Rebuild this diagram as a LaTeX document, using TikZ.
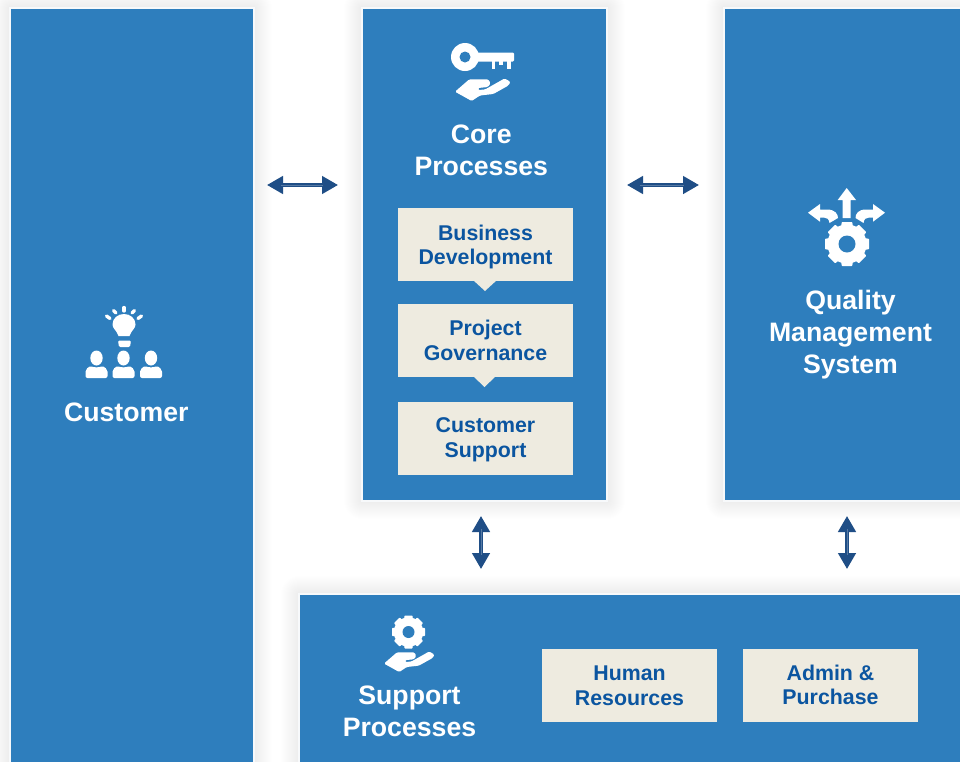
\documentclass[tikz,border=0pt]{standalone}
\usepackage{fontspec}
\setmainfont{Liberation Sans}
\usetikzlibrary{arrows.meta,calc}
\definecolor{boxblue}{HTML}{2E7EBD}
\definecolor{cream}{HTML}{EEEBE0}
\definecolor{inktext}{HTML}{0B55A0}
\definecolor{arrowblue}{HTML}{1F4E86}
\definecolor{edgeline}{HTML}{F7F9FB}
\tikzset{
  bigbox/.style={rectangle,draw=edgeline,line width=1.2pt,fill=boxblue,inner sep=0pt,outer sep=0pt},
  subbox/.style={rectangle,fill=cream,minimum width=131.25pt,minimum height=54.75pt,inner sep=0pt,outer sep=0pt},
  subtext/.style={text=inktext,font=\fontsize{16}{18.4}\selectfont\bfseries,align=center,inner sep=0pt},
  heading/.style={text=white,font=\fontsize{20}{24}\selectfont\bfseries,align=center,inner sep=0pt},
  biarrow/.style={draw=arrowblue,line width=2.6pt,{Triangle[length=12pt,width=13pt]}-{Triangle[length=12pt,width=13pt]}},
  midline/.style={draw=arrowblue!75!white,line width=.7pt},
  icon/.style={fill=white,draw=none},
  ray/.style={draw=white,line width=2.5pt,line cap=round}
}
\newcommand{\softshadow}[4]{%
  \foreach \i in {1,...,18}{
    \fill[black,opacity=.005,rounded corners=\i*0.75pt] (#1-\i,#2-\i) rectangle (#3+\i,#4+\i);
  }}
\newcommand{\gearicon}[4]{% cx cy R r
  \begin{scope}[shift={(#1,#2)}]
    \fill[icon] (0,0) circle[radius=#3*0.89];
    \foreach \a in {0,45,...,315}{
      \fill[icon,rotate=\a,rounded corners=.5pt] (-#3*.36,0) -- (-#3*.24,#3) -- (#3*.24,#3) -- (#3*.36,0) -- cycle;
    }
    \fill[boxblue] (0,0) circle[radius=#4];
  \end{scope}}
\newcommand{\handicon}[3]{% x y scale
  \begin{scope}[shift={(#1,#2)},scale=#3]
    \fill[icon,rounded corners=1pt] (0,12.7) -- (14.3,.3) -- (33.3,.3) -- (35.5,4.3) -- (33,8) -- (23,9) -- (23,11) -- (30,10.5) -- (49.5,-.5) -- (55.5,2.7) -- (53.5,6.5) -- (38.3,15) -- (25,16.5) -- (16.7,22) -- cycle;
  \end{scope}}
\newcommand{\personicon}[1]{%
  \begin{scope}[shift={(#1,0)}]
    \fill[icon] (0,358) ellipse[x radius=6.2,y radius=7.5];
    \fill[icon,rounded corners=1.5pt] (-11,378) -- (-11,369.5) -- (-5.5,365.5) .. controls (-3,367.5) and (3,367.5) .. (5.5,365.5) -- (11,369.5) -- (11,378) -- cycle;
  \end{scope}}
\begin{document}
\begin{tikzpicture}[x=0.75pt,y=-0.75pt]
\useasboundingbox (0,0) rectangle (960,761);
\clip (0,0) rectangle (960,761);
\fill[white] (0,0) rectangle (960,761);

\softshadow{10}{8}{254}{900}
\softshadow{362}{8}{607}{501}
\softshadow{724}{8}{1100}{501}
\softshadow{299}{594}{1100}{900}

\node[bigbox,minimum width=183pt,minimum height=669pt] (customer) at (132,454) {};
\node[bigbox,minimum width=183.75pt,minimum height=369.75pt] (core) at (484.5,254.5) {};
\node[bigbox,minimum width=282pt,minimum height=369.75pt] (quality) at (912,254.5) {};
\node[bigbox,minimum width=600.75pt,minimum height=229.5pt] (support) at (699.5,747) {};

\node[heading] (customerlabel) at (126.3,412) {Customer};
\node[heading] (corelabel) at (481.3,150) {Core\\Processes};
\node[heading] (qualitylabel) at (850.5,335) {Quality\\Management\\System};
\node[heading] (supportlabel) at (409.5,711) {Support\\Processes};

\fill[cream] (473,280) -- (497,280) -- (485,291) -- cycle;
\fill[cream] (473,376) -- (496,376) -- (484.5,387) -- cycle;
\node[subbox] (business) at (485.5,244.5) {};
\node[subbox] (project) at (485.5,340.5) {};
\node[subbox] (custsupport) at (485.5,438.5) {};
\node[subbox] (human) at (629.5,685.5) {};
\node[subbox] (admin) at (830.5,685.5) {};
\node[subtext] (businesslabel) at (485.5,247) {Business\\Development};
\node[subtext] (projectlabel) at (485.5,340.5) {Project\\Governance};
\node[subtext] (custsupportlabel) at (485.5,440) {Customer\\Support};
\node[subtext] (humanlabel) at (629.5,685.5) {Human\\Resources};
\node[subtext] (adminlabel) at (830.5,685) {Admin \&\\Purchase};

% connectors
\coordinate (rowa) at (0,185);
\coordinate (cola) at (481,0);
\coordinate (colb) at (847,0);
\draw[biarrow,shorten <=9.75pt,shorten >=18pt] (customer.east |- rowa) -- (core.west |- rowa);
\draw[biarrow,shorten <=15pt,shorten >=18.75pt] (core.east |- rowa) -- (quality.west |- rowa);
\draw[biarrow,shorten <=11.25pt,shorten >=18.75pt] (core.south -| cola) -- (support.north -| cola);
\draw[biarrow,shorten <=11.25pt,shorten >=18.75pt] (quality.south -| colb) -- (support.north -| colb);
\draw[midline,shorten <=20pt,shorten >=29pt] (customer.east |- rowa) -- (core.west |- rowa);
\draw[midline,shorten <=25pt,shorten >=30pt] (core.east |- rowa) -- (quality.west |- rowa);
\draw[midline,shorten <=21pt,shorten >=29pt] (core.south -| cola) -- (support.north -| cola);
\draw[midline,shorten <=21pt,shorten >=29pt] (quality.south -| colb) -- (support.north -| colb);

% customer icon
\fill[icon] (118.5,336) .. controls (116.5,330) and (112.5,328.5) .. (112.5,324.5) .. controls (112.5,318) and (118,314) .. (124,314) .. controls (130,314) and (135.5,318) .. (135.5,324.5) .. controls (135.5,328.5) and (131.5,330) .. (129.5,336) -- cycle;
\fill[icon,rounded corners=1pt] (118,340.5) -- (131,340.5) -- (130,347) -- (119,347) -- cycle;
\draw[ray] (124,307.5) -- (124,311);
\draw[ray] (113.5,310.5) -- (116,313);
\draw[ray] (134.5,310.5) -- (132,313);
\draw[ray] (106.5,316) -- (110,318.5);
\draw[ray] (141.5,316) -- (138,318.5);
\personicon{96.5}
\personicon{123.5}
\personicon{151}

% key icon
\fill[icon] (465,57) circle[radius=14];
\fill[icon,rounded corners=.8pt] (475,52.5) -- (514,52.5) -- (514,61.5) -- (475,61.5) -- cycle;
\fill[icon] (491.5,60) rectangle (495,69);
\fill[icon] (499,60) rectangle (503,65);
\fill[icon] (507,60) rectangle (511,69);
\fill[boxblue] (465,57) circle[radius=5.5];
\handicon{455}{79}{1}

% quality icon
\fill[icon] (842.7,218) -- (842.7,200) -- (837.7,200) -- (846.7,188) -- (856,200) -- (850.7,200) -- (850.7,218) -- cycle;
\fill[icon] (808,212.7) -- (820,204) -- (820,209.5) -- (827,209.5) .. controls (835,209.5) and (838,214) .. (838,218) -- (829.5,223) .. controls (829,219) and (827,217.5) .. (824,217.5) -- (820,217.5) -- (820,221.7) -- cycle;
\fill[icon] (885,212.7) -- (873,204) -- (873,209.5) -- (866,209.5) .. controls (858,209.5) and (855.5,214) .. (855.5,218) -- (863.5,223) .. controls (864,219) and (866,217.5) .. (869,217.5) -- (873,217.5) -- (873,221.7) -- cycle;
\gearicon{847}{244}{22}{8.5}

% support icon
\gearicon{408.5}{632}{16.5}{6}
\handicon{384}{652}{.91}
\end{tikzpicture}
\end{document}
